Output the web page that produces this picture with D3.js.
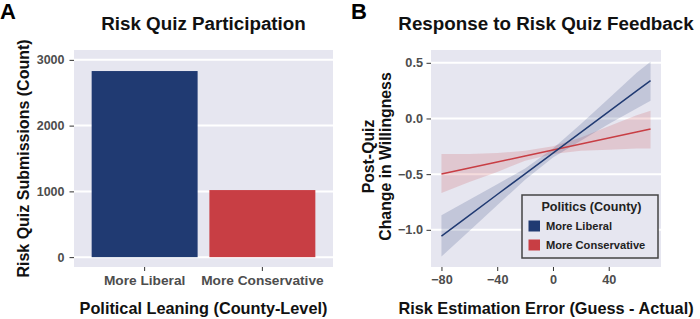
<!DOCTYPE html>
<html>
<head>
<meta charset="utf-8">
<script src="https://cdn.jsdelivr.net/npm/d3@7"></script>
<style>
  body { margin: 0; background: #fff; }
  text { font-family: "Liberation Sans", Arial, sans-serif; }
</style>
</head>
<body>
<div id="chart"></div>
<script>
// panel A: submissions by county leaning
const partyLabels = ["More Liberal", "More Conservative"];
const submissionCounts = [2830, 1020];
const countTicks = [0, 1000, 2000, 3000];

// panel B: fitted change in willingness with 95% band, read at these errors
const errorX = [-80, -60, -40, -20, 0, 20, 40, 60, 70];
const liberalFit   = [-1.056, -0.870, -0.683, -0.497, -0.311, -0.125, 0.061, 0.247, 0.340];
const liberalLower = [-1.24, -1.01, -0.78, -0.55, -0.35, -0.20, -0.05, 0.09, 0.16];
const liberalUpper = [-0.87, -0.73, -0.59, -0.45, -0.27, -0.05, 0.18, 0.41, 0.51];
const conservativeFit   = [-0.499, -0.445, -0.391, -0.337, -0.283, -0.230, -0.176, -0.122, -0.095];
const conservativeLower = [-0.67, -0.57, -0.48, -0.38, -0.32, -0.29, -0.28, -0.27, -0.27];
const conservativeUpper = [-0.32, -0.32, -0.31, -0.29, -0.25, -0.17, -0.07, 0.03, 0.07];
const errorTicks = [-80, -40, 0, 40];
const changeTicks = [-1.0, -0.5, 0.0, 0.5];

const legendTitle = "Politics (County)";

const colors = {"More Liberal": "#203a72", "More Conservative": "#c83e44"};
const panelFill = "#e6e6f0";

const svg = d3.select("#chart").append("svg")
  .attr("width", 700).attr("height", 319);

function styleAxis(g, size) {
  g.select(".domain").remove();
  g.selectAll(".tick line").attr("stroke", "#333").attr("stroke-width", 1);
  g.selectAll(".tick text")
    .attr("fill", "#4d4d4d")
    .attr("font-size", size)
    .attr("font-weight", "bold");
}

function title(x, y, txt) {
  return svg.append("text")
    .attr("x", x).attr("y", y)
    .attr("text-anchor", "middle")
    .attr("font-size", "18.8px").attr("font-weight", "bold").attr("fill", "#111")
    .text(txt);
}

function axisTitle(x, y, txt) {
  return svg.append("text")
    .attr("x", x).attr("y", y)
    .attr("text-anchor", "middle")
    .attr("font-size", "16.3px").attr("font-weight", "bold").attr("fill", "#111")
    .text(txt);
}

// ---------- Panel A ----------
const aLeft = 74, aRight = 333, panelTop = 50, panelBottom = 267;

const xA = d3.scaleBand().domain(partyLabels).range([aLeft, aRight])
  .paddingInner(0.1).paddingOuter(0.15);
const yA = d3.scaleLinear().domain([-150, 3150]).range([panelBottom, panelTop]);

svg.append("rect")
  .attr("x", aLeft).attr("y", panelTop)
  .attr("width", aRight - aLeft).attr("height", panelBottom - panelTop)
  .attr("fill", panelFill);

svg.append("g").selectAll("line")
  .data(countTicks)
  .join("line")
    .attr("x1", aLeft).attr("x2", aRight)
    .attr("y1", d => yA(d)).attr("y2", d => yA(d))
    .attr("stroke", "#fff").attr("stroke-width", 2);

svg.append("g").selectAll("rect")
  .data(partyLabels.map((p, i) => ({party: p, count: submissionCounts[i]})))
  .join("rect")
    .attr("x", d => xA(d.party))
    .attr("width", xA.bandwidth())
    .attr("y", d => yA(d.count))
    .attr("height", d => yA(0) - yA(d.count))
    .attr("fill", d => colors[d.party]);

svg.append("g")
  .attr("transform", `translate(${aLeft},0)`)
  .call(d3.axisLeft(yA).tickValues(countTicks).tickFormat(d3.format("d")).tickSize(4.5).tickPadding(5))
  .call(styleAxis, "12.5px");

svg.append("g")
  .attr("transform", `translate(0,${panelBottom})`)
  .call(d3.axisBottom(xA).tickSize(4).tickPadding(4))
  .call(styleAxis, "13.7px");

title((aLeft + aRight) / 2, 30, "Risk Quiz Participation");

svg.append("text")
  .attr("transform", `translate(29,${(panelTop + panelBottom) / 2}) rotate(-90)`)
  .attr("text-anchor", "middle")
  .attr("font-size", "16px").attr("font-weight", "bold").attr("fill", "#111")
  .text("Risk Quiz Submissions (Count)");

axisTitle((aLeft + aRight) / 2, 314, "Political Leaning (County-Level)");

svg.append("text")
  .attr("x", 0).attr("y", 19)
  .attr("font-size", "22px").attr("font-weight", "bold").attr("fill", "#000")
  .text("A");

// ---------- Panel B ----------
const bLeft = 431, bRight = 661;

const xB = d3.scaleLinear().domain([-87.5, 77.5]).range([bLeft, bRight]);
const yB = d3.scaleLinear().domain([-1.334, 0.615]).range([panelBottom, panelTop]);

svg.append("rect")
  .attr("x", bLeft).attr("y", panelTop)
  .attr("width", bRight - bLeft).attr("height", panelBottom - panelTop)
  .attr("fill", panelFill);

svg.append("g").selectAll("line")
  .data(changeTicks)
  .join("line")
    .attr("x1", bLeft).attr("x2", bRight)
    .attr("y1", d => yB(d)).attr("y2", d => yB(d))
    .attr("stroke", "#fff").attr("stroke-width", 2);

const fits = [
  {party: "More Conservative", fit: conservativeFit, lo: conservativeLower, hi: conservativeUpper},
  {party: "More Liberal", fit: liberalFit, lo: liberalLower, hi: liberalUpper}
];

const band = d3.area()
  .x((d, i) => xB(errorX[i]))
  .y0(d => yB(d[0]))
  .y1(d => yB(d[1]));

const fitLine = d3.line()
  .x((d, i) => xB(errorX[i]))
  .y(d => yB(d));

svg.append("g").selectAll("path")
  .data(fits)
  .join("path")
    .attr("d", s => band(s.lo.map((v, i) => [v, s.hi[i]])))
    .attr("fill", s => colors[s.party])
    .attr("fill-opacity", 0.18);

svg.append("g").selectAll("path")
  .data(fits)
  .join("path")
    .attr("d", s => fitLine(s.fit))
    .attr("fill", "none")
    .attr("stroke", s => colors[s.party])
    .attr("stroke-width", 1.5);

svg.append("g")
  .attr("transform", `translate(${bLeft},0)`)
  .call(d3.axisLeft(yB).tickValues(changeTicks).tickFormat(d3.format(".1f")).tickSize(4.5).tickPadding(3.5))
  .call(styleAxis, "12.7px");

svg.append("g")
  .attr("transform", `translate(0,${panelBottom})`)
  .call(d3.axisBottom(xB).tickValues(errorTicks).tickFormat(d3.format("d")).tickSize(4).tickPadding(4))
  .call(styleAxis, "12.7px");

// legend
const leg = svg.append("g").attr("transform", "translate(522,195)");
leg.append("rect")
  .attr("width", 136).attr("height", 63)
  .attr("fill", panelFill)
  .attr("stroke", "#444").attr("stroke-width", 1.5);
leg.append("text")
  .attr("x", 69.5).attr("y", 16)
  .attr("text-anchor", "middle")
  .attr("font-size", "12.6px").attr("font-weight", "bold").attr("fill", "#222")
  .text(legendTitle);
const items = leg.selectAll("g.item")
  .data(partyLabels)
  .join("g")
    .attr("class", "item")
    .attr("transform", (d, i) => `translate(6.5,${25.5 + i * 19})`);
items.append("rect")
  .attr("width", 11.5).attr("height", 11)
  .attr("fill", d => colors[d]);
items.append("text")
  .attr("x", 17.5).attr("y", 9.5)
  .attr("font-size", "11.1px").attr("font-weight", "bold").attr("fill", "#222")
  .text(d => d);

title((bLeft + bRight) / 2, 30, "Response to Risk Quiz Feedback");

const yTitle = svg.append("text")
  .attr("transform", `translate(374,${(panelTop + panelBottom) / 2 - 2}) rotate(-90)`)
  .attr("text-anchor", "middle")
  .attr("font-size", "15.8px").attr("font-weight", "bold").attr("fill", "#111");
yTitle.append("tspan").attr("x", 0).attr("dy", 0).text("Post-Quiz");
yTitle.append("tspan").attr("x", 0).attr("dy", 16.5).text("Change in Willingness");

axisTitle((bLeft + bRight) / 2, 314, "Risk Estimation Error (Guess - Actual)");

svg.append("text")
  .attr("x", 351).attr("y", 19)
  .attr("font-size", "22px").attr("font-weight", "bold").attr("fill", "#000")
  .text("B");
</script>
</body>
</html>
